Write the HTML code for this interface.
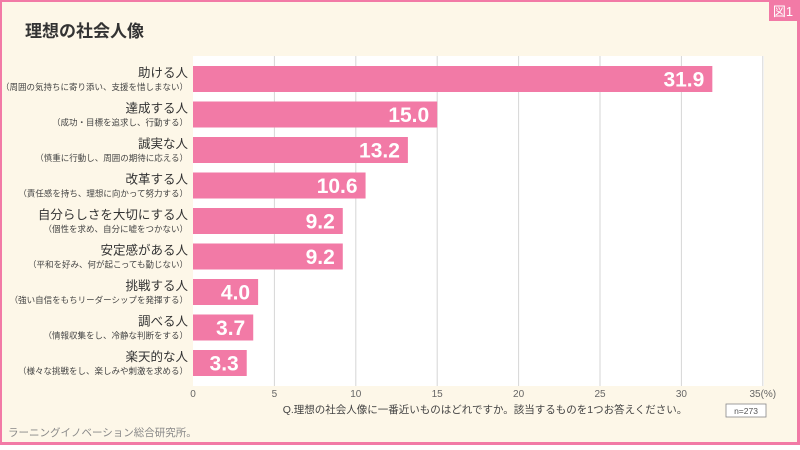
<!DOCTYPE html>
<html><head><meta charset="utf-8"><style>
body{margin:0;width:800px;height:445px;overflow:hidden;font-family:"Liberation Sans","Noto Sans CJK JP",sans-serif;}
</style></head><body>
<svg width="800" height="445" xmlns="http://www.w3.org/2000/svg" font-family="Liberation Sans, Noto Sans CJK JP, sans-serif">
<rect x="0" y="0" width="800" height="445" fill="#f27aa6"/>
<rect x="2" y="2" width="795" height="440" fill="#fdf7e8"/>
<rect x="769" y="2" width="28" height="19" fill="#f27aa6"/>
<text x="783" y="16" fill="#fff" font-size="13" text-anchor="middle">図1</text>
<text x="25" y="37" font-size="17" font-weight="bold" fill="#333">理想の社会人像</text>
<rect x="193" y="56" width="571" height="330" fill="#fff"/>
<g id="grid"></g><g id="bars"></g><g id="labels"></g><g id="ticks"></g>
<text x="485" y="413" font-size="10.5" fill="#444" text-anchor="middle">Q.理想の社会人像に一番近いものはどれですか。該当するものを1つお答えください。</text>
<rect x="726" y="404" width="40" height="13" fill="#fff" stroke="#888" stroke-width="0.8"/>
<text x="746" y="414" font-size="8.5" fill="#555" text-anchor="middle">n=273</text>
<text x="8" y="436" font-size="10.5" fill="#888">ラーニングイノベーション総合研究所。</text>
</svg>
<script>
const categories=["助ける人","達成する人","誠実な人","改革する人","自分らしさを大切にする人","安定感がある人","挑戦する人","調べる人","楽天的な人"];
const subtitles=["（周囲の気持ちに寄り添い、支援を惜しまない）","（成功・目標を追求し、行動する）","（慎重に行動し、周囲の期待に応える）","（責任感を持ち、理想に向かって努力する）","（個性を求め、自分に嘘をつかない）","（平和を好み、何が起こっても動じない）","（強い自信をもちリーダーシップを発揮する）","（情報収集をし、冷静な判断をする）","（様々な挑戦をし、楽しみや刺激を求める）"];
const values=[31.9,15.0,13.2,10.6,9.2,9.2,4.0,3.7,3.3];
const tickValues=[0,5,10,15,20,25,30,35];
const ns="http://www.w3.org/2000/svg";
const x0=193,pxPer=16.28,y0=79,step=35.5,bh=26;
const xs=v=>x0+v*pxPer;
const ys=i=>y0+i*step;
function mk(t,a,p){const e=document.createElementNS(ns,t);for(const k in a)e.setAttribute(k,a[k]);document.getElementById(p).appendChild(e);return e;}
tickValues.forEach((t,i)=>{
 if(t>0){const g=mk('line',{x1:xs(t),x2:xs(t),y1:56,y2:386,stroke:'#d6d6d6','stroke-width':1},'grid');
 
 }
 const l=mk('text',{x:xs(t),y:397,'font-size':10,fill:'#666','text-anchor':'middle'},'ticks');
 l.textContent=t+(i===tickValues.length-1?'(%)':'');
 
 
});
values.forEach((v,i)=>{
 const c=ys(i);
 const r=mk('rect',{x:x0,y:c-bh/2,width:v*pxPer,height:bh,fill:'#f27aa6'},'bars');
 
 
 const t=mk('text',{x:xs(v)-8,y:c+7.5,'font-size':21,'font-weight':'bold',fill:'#fff','text-anchor':'end'},'bars');
 t.textContent=v.toFixed(1);
 
 
 const a=mk('text',{x:188,y:c-2,'font-size':12.5,fill:'#333','text-anchor':'end'},'labels');
 a.textContent=categories[i];
 
 
 const b=mk('text',{x:188,y:c+11,'font-size':8.5,fill:'#444','text-anchor':'end'},'labels');
 b.textContent=subtitles[i];
 
 
});
</script>
</body></html>
